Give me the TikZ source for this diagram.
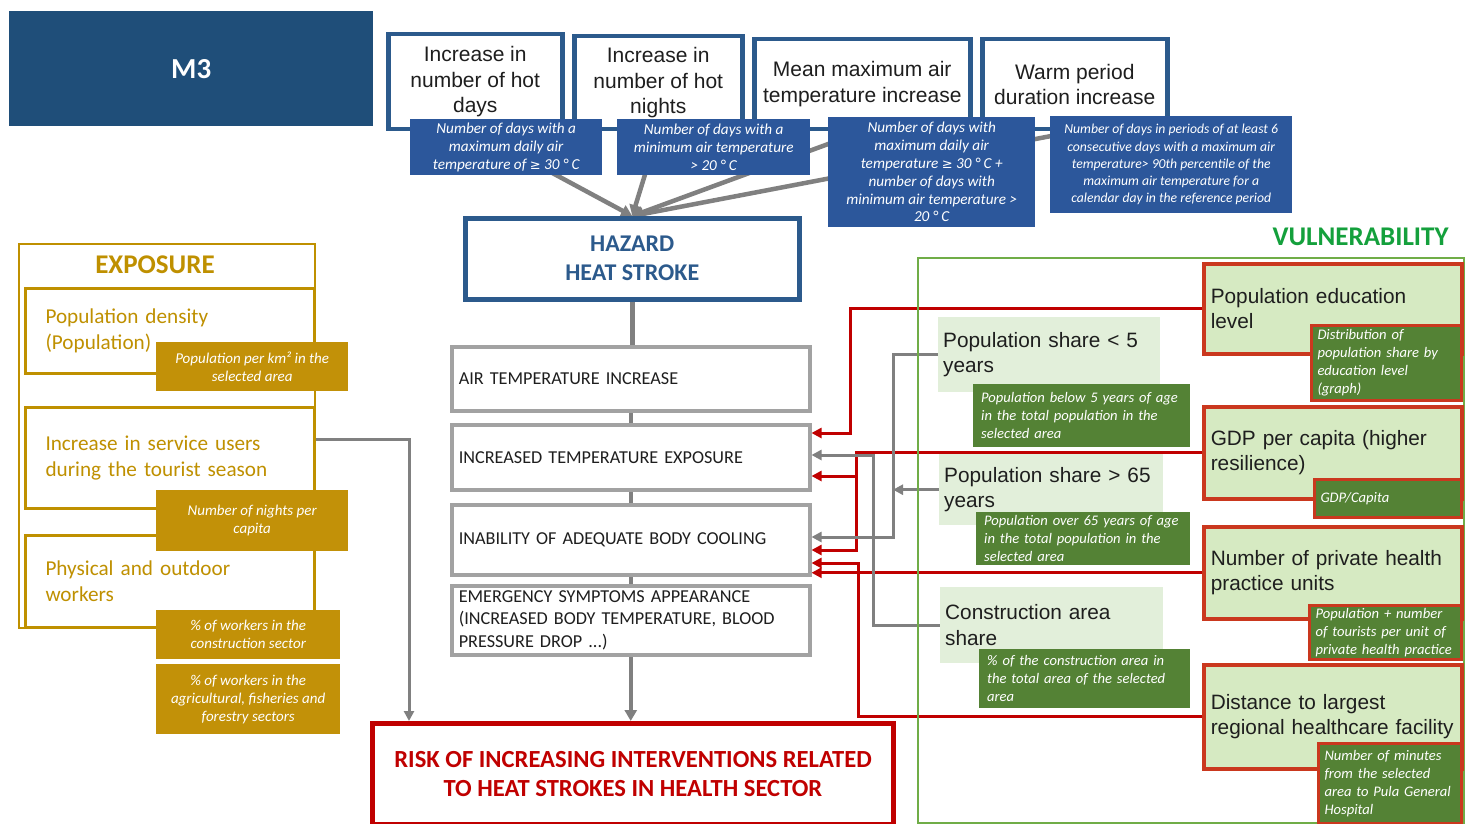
\documentclass[tikz,border=0pt]{standalone}
\usepackage{fontspec}
\setmainfont{Liberation Sans}
\newfontfamily\calfont{Carlito}
\newfontfamily\symfont{DejaVu Sans}
\usetikzlibrary{arrows.meta,calc}

\definecolor{mblue}{RGB}{31,78,121}
\definecolor{hzblue}{RGB}{44,90,140}
\definecolor{indblue}{RGB}{44,87,155}
\definecolor{boxgray}{RGB}{162,162,162}
\definecolor{linegray}{RGB}{128,128,128}
\definecolor{riskred}{RGB}{192,0,0}
\definecolor{gold}{RGB}{191,144,0}
\definecolor{goldfill}{RGB}{194,145,8}
\definecolor{vframe}{RGB}{112,173,71}
\definecolor{vtitle}{RGB}{20,160,60}
\definecolor{lgreen}{RGB}{226,239,218}
\definecolor{rgreen}{RGB}{214,234,194}
\definecolor{rborder}{RGB}{202,56,30}
\definecolor{dgreen}{RGB}{84,130,53}
\definecolor{txt}{RGB}{30,30,30}

\newcommand\fArial{\fontsize{21}{25.5}\selectfont}
\newcommand\fArialV{\fontsize{20.8}{25.5}\selectfont}
\newcommand\fInd{\calfont\itshape\fontsize{15.2}{17.8}\selectfont}
\newcommand\fIndV{\calfont\itshape\fontsize{14.6}{18}\selectfont}
\newcommand\fIndS{\calfont\itshape\fontsize{13.7}{17.2}\selectfont}
\newcommand\fIndG{\calfont\itshape\fontsize{15}{18.2}\selectfont}
\newcommand\fChain{\calfont\fontsize{18.2}{22.5}\selectfont}
\newcommand\fExp{\calfont\fontsize{21.2}{26}\selectfont}
\newcommand\geqsym{{\symfont\fontsize{13}{15}\selectfont ≥}}

\pgfdeclarelayer{bg}
\pgfsetlayers{bg,main}

\tikzset{
  sz/.style 2 args={minimum width=#1pt, minimum height=#2pt},
  nwa/.style={anchor=north west},
  pbox/.style={nwa, draw=hzblue, line width=4.5pt, fill=white, font=\fArial,
    text=txt, align=center, inner sep=0pt},
  pind/.style={nwa, fill=indblue, text=white, font=\fInd, align=center, inner sep=0pt},
  chain/.style={nwa, draw=boxgray, line width=3.5pt, fill=white, font=\fChain,
    text=txt, align=left, inner xsep=7pt, inner ysep=0pt, text width=344pt},
  ebox/.style={nwa, draw=gold, line width=3pt, fill=white, font=\fExp, text=gold,
    align=left, inner xsep=20pt, inner ysep=0pt, text width=249pt},
  eind/.style={nwa, fill=goldfill, text=white, font=\fIndG, align=center, inner sep=0pt},
  lgbox/.style={nwa, fill=lgreen, font=\fArialV, text=txt, align=left,
    inner xsep=5pt, inner ysep=0pt},
  gind/.style={nwa, fill=dgreen, text=white, font=\fIndV, align=left,
    inner xsep=8pt, inner ysep=0pt},
  rbox/.style={nwa, draw=rborder, line width=3.5pt, fill=rgreen, font=\fArialV,
    text=txt, align=left, inner xsep=7pt, inner ysep=0pt, text width=244pt},
  rind/.style={nwa, draw=rborder, line width=3pt, fill=dgreen, text=white,
    font=\fIndV, align=left, inner xsep=6pt, inner ysep=0pt},
  hline/.style={draw=linegray, line width=4.5pt},
  harrow/.style={hline, -{Triangle[length=11pt,width=12pt]}},
  garrow/.style={draw=linegray, line width=3pt, -{Triangle[length=10pt,width=10pt]}},
  rarrow/.style={draw=riskred, line width=3pt, -{Triangle[length=10pt,width=10pt]}},
}

\begin{document}
\begin{tikzpicture}[x=1pt,y=-1pt]
\begin{pgfonlayer}{bg}
  \fill[white] (0,0) rectangle (1465,824);
\end{pgfonlayer}
\useasboundingbox (0,0) rectangle (1465,824);

% title block
\node[nwa, fill=mblue, sz={364}{115}, text=white,
  font=\calfont\bfseries\fontsize{29}{34}\selectfont] (m3) at (9,11) {M3};

% hazard components and their indicators
\node[pbox, sz={174}{95}] (h1) at (386,32) {Increase in\\number of hot\\days};
\node[pbox, sz={168}{93}] (h2) at (572,34) {Increase in\\number of hot\\nights};
\node[pbox, sz={216}{90}] (h3) at (752,37) {Mean maximum air\\temperature increase};
\node[pbox, sz={185}{90}] (h4) at (980,37) {Warm period\\duration increase};

\node[pind, sz={192}{56}] (i1) at (410,119)
  {Number of days with a\\maximum daily air\\temperature of \geqsym{} 30 ° C};
\node[pind, sz={193}{56}] (i2) at (617,119)
  {Number of days with a\\minimum air temperature\\> 20 ° C};
\node[pind, sz={207}{110}] (i3) at (828,117)
  {Number of days with\\maximum daily air\\temperature \geqsym{} 30 ° C +\\number of days with\\minimum air temperature >\\20 ° C};
\node[pind, font=\fIndS, sz={242}{97}] (i4) at (1050,116)
  {Number of days in periods of at least 6\\consecutive days with a maximum air\\temperature> 90th percentile of the\\maximum air temperature for a\\calendar day in the reference period};

\node[nwa, draw=hzblue, line width=4.5pt, fill=white, sz={334}{81}, align=center,
  text=hzblue, font=\calfont\bfseries\fontsize{24}{29}\selectfont] (hz) at (463,216)
  {HAZARD\\HEAT STROKE};

% impact chain
\node[chain, sz={358}{64}] (c1) at (450,345) {AIR TEMPERATURE INCREASE};
\node[chain, sz={358}{65}] (c2) at (450,423) {INCREASED TEMPERATURE EXPOSURE};
\node[chain, sz={358}{70}] (c3) at (450,503) {INABILITY OF ADEQUATE BODY COOLING};
\node[chain, sz={358}{69}] (c4) at (450,584)
  {EMERGENCY SYMPTOMS APPEARANCE\\(INCREASED BODY TEMPERATURE, BLOOD\\PRESSURE DROP ...)};

\node[nwa, draw=riskred, line width=5pt, fill=white, sz={521}{101}, align=center,
  text=riskred, font=\calfont\bfseries\fontsize{24.6}{29}\selectfont] (risk) at (370,721)
  {RISK OF INCREASING INTERVENTIONS RELATED\\TO HEAT STROKES IN HEALTH SECTOR};

% exposure
\node[nwa, draw=gold, line width=2pt, sz={296}{384}] (eframe) at (18,243) {};
\node[text=gold, font=\calfont\bfseries\fontsize{27}{32}\selectfont] (etitle) at (155,265) {EXPOSURE};
\node[ebox, sz={289}{85}] (e1) at (24,287) {Population density\\(Population)};
\node[ebox, sz={289}{101}] (e2) at (24,406) {Increase in service users\\during the tourist season};
\node[ebox, sz={289}{92}] (e3) at (24,534) {Physical and outdoor\\workers};
\node[eind, sz={192}{49}] (ei1) at (156,342) {Population per km² in the\\selected area};
\node[eind, sz={192}{61}] (ei2) at (156,490) {Number of nights per\\capita};
\node[eind, sz={184}{49}] (ei3) at (156,610) {\% of workers in the\\construction sector};
\node[eind, sz={184}{70}] (ei4) at (156,664)
  {\% of workers in the\\agricultural, fisheries and\\forestry sectors};

% vulnerability
\node[nwa, draw=vframe, line width=2pt, sz={546}{565}] (vfr) at (917,257) {};
\node[anchor=east, text=vtitle, font=\calfont\bfseries\fontsize{27}{32}\selectfont] (vtitle) at (1452,237) {VULNERABILITY};

\node[lgbox, sz={222}{75}, text width=212pt] (v1) at (938,317) {Population share < 5\\years};
\node[gind, sz={217}{63}, text width=201pt] (vi1) at (973,384)
  {Population below 5 years of age\\in the total population in the\\selected area};
\node[lgbox, sz={224}{71}, text width=214pt] (v2) at (939,454) {Population share > 65\\years};
\node[gind, sz={214}{53}, text width=198pt] (vi2) at (976,512)
  {Population over 65 years of age\\in the total population in the\\selected area};
\node[lgbox, sz={223}{76}, text width=213pt] (v3) at (940,587) {Construction area\\share};
\node[gind, sz={211}{59}, text width=195pt] (vi3) at (979,649)
  {\% of the construction area in\\the total area of the selected\\area};

\node[rbox, sz={258}{90}] (r1) at (1202,262) {Population education\\level};
\node[rind, sz={150}{75}, text width=138pt] (ri1) at (1310,324)
  {Distribution of\\population share by\\education level\\(graph)};
\node[rbox, sz={258}{92}] (r2) at (1202,405) {GDP per capita (higher\\resilience)};
\node[rind, sz={147}{38}, text width=135pt] (ri2) at (1313,478) {GDP/Capita};
\node[rbox, sz={258}{92}] (r3) at (1202,525) {Number of private health\\practice units};
\node[rind, sz={152}{54}, text width=140pt] (ri3) at (1308,604)
  {Population + number\\of tourists per unit of\\private health practice};
\node[rbox, sz={258}{104}] (r4) at (1202,663) {Distance to largest\\regional healthcare facility};
\node[rind, sz={143}{80}, text width=131pt] (ri4) at (1317,742)
  {Number of minutes\\from the selected\\area to Pula General\\Hospital};

% connectors, kept beneath the boxes
\begin{pgfonlayer}{bg}
  \draw[harrow] (h1.south) -- (hz.north);
  \draw[harrow] (h2.south) -- (hz.north);
  \draw[harrow] (h3.south) -- (hz.north);
  \draw[harrow] (h4.south) -- (hz.north);

  \draw[hline] (hz.south) -- (hz.south |- c1.north);
  \draw[hline] (c1.south) -- (c2.north);
  \draw[hline] (c2.south) -- (c3.north);
  \draw[hline] (c3.south) -- (c4.north);
  \draw[harrow] (c4.south) -- (c4.south |- risk.north);

  \draw[garrow] ($(e2.north east)+(0,33)$) -| ($(risk.north west)+(39,0)$);

  \draw[rarrow] (r1.west) -- ++(-352,0) |- ($(c2.north east)+(0,10)$);
  \draw[rarrow] (r2.west) -- ++(-346,0) |- ($(c2.north east)+(0,53)$);
  \draw[rarrow] ($(r2.west)+(-346,0)$) |- ($(c3.north east)+(0,47)$);
  \draw[rarrow] (r3.west) -- (r3.west -| c3.east);
  \draw[rarrow] (r4.west) -- ++(-344,0) |- ($(c3.north east)+(0,60)$);

  \draw[garrow] (v1.west) -- ++(-45,0) |- ($(c3.north east)+(0,34)$);
  \draw[garrow] (v2.west) -- ++(-46,0);
  \draw[garrow] (v3.west) -- ++(-67,0) |- ($(c2.north east)+(0,32)$);
\end{pgfonlayer}
\end{tikzpicture}
\end{document}
